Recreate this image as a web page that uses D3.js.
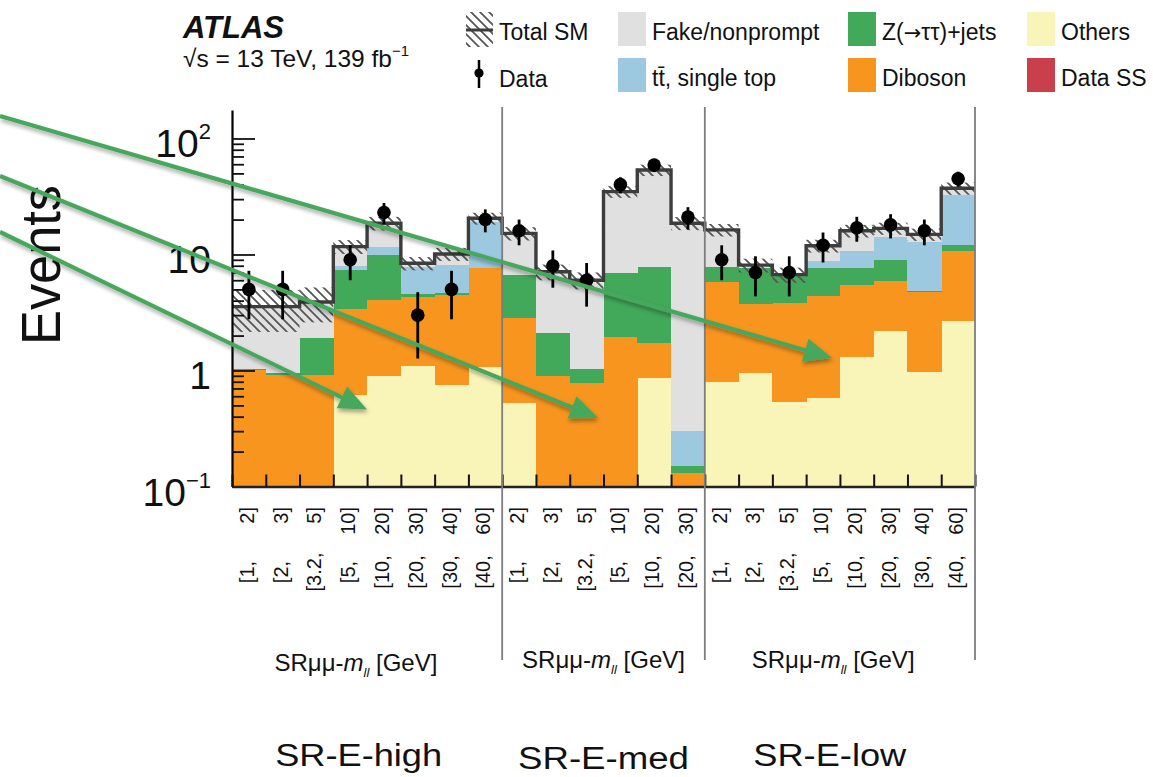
<!DOCTYPE html>
<html>
<head>
<meta charset="utf-8">
<script src="https://cdn.jsdelivr.net/npm/d3@7"></script>
<style>
  html, body { margin: 0; padding: 0; background: #fff; }
  svg { display: block; font-family: "Liberation Sans", Arial, Helvetica, sans-serif; }
</style>
</head>
<body>
<svg id="chart" width="1153" height="777"></svg>
<script>
// ---- Signal regions and m_ll bins ------------------------------------
const regions    = ["SR-E-high", "SR-E-med", "SR-E-low"];
const regionBins = [8, 6, 8];
const edgeLow    = ["1", "2", "3.2", "5", "10", "20", "30", "40"];
const edgeHigh   = ["2", "3", "5", "10", "20", "30", "40", "60"];

// ---- Expected yields per bin (22 bins: 8 + 6 + 8) --------------------
const others  = [0.05, 0.05, 0.05, 0.62, 0.90, 1.10, 0.75, 1.08,
                 0.52, 0.05, 0.05, 0.05, 0.86, 0.03,
                 0.79, 0.96, 0.53, 0.58, 1.31, 2.19, 0.98, 2.69];
const diboson = [0.95, 0.86, 0.86, 2.75, 3.15, 3.20, 3.75, 6.52,
                 2.30, 0.85, 0.73, 1.88, 0.86, 0.10,
                 5.05, 2.78, 3.26, 3.80, 4.15, 3.76, 3.80, 8.11];
const zjets   = [0.03, 0.04, 0.99, 3.98, 5.85, 0.30, 0.15, 0.10,
                 3.83, 1.19, 0.26, 4.97, 6.13, 0.02,
                 2.02, 3.86, 2.86, 3.22, 2.14, 3.02, 0.05, 1.30];
const ttbar   = [0.00, 0.00, 0.00, 0.65, 1.80, 3.20, 3.45, 11.5,
                 0.00, 0.00, 0.00, 0.00, 0.00, 0.15,
                 0.00, 0.00, 0.00, 1.20, 3.20, 5.23, 8.07, 20.5];
const fake    = [2.52, 2.60, 2.00, 3.70, 6.90, 0.60, 2.00, 1.30,
                 8.55, 5.00, 4.96, 27.9, 45.6, 18.3,
                 8.45, 0.50, 0.05, 3.10, 5.20, 2.60, 2.00, 4.60];
// total SM uncertainty (absolute)
const totalUnc = [1.4, 1.4, 1.3, 1.6, 2.5, 1.1, 1.3, 2.4,
                  2.0, 1.1, 1.0, 4.0, 6.0, 2.4,
                  2.0, 1.1, 1.0, 1.5, 2.0, 2.0, 1.8, 4.5];
// observed events
const observed = [5, 5, 0, 9, 23, 3, 5, 20,
                  16, 8, 6, 40, 59, 21,
                  9, 7, 7, 12, 17, 18, 16, 45];

const yMajor = [0.1, 1, 10, 100];
const yMajorLabels = [["10", "\u22121"], ["1", ""], ["10", ""], ["10", "2"]];

// ---- Styling -----------------------------------------------------------
// label parts: [text, use-symbol-font]
const processes = [
  { key: "others",  label: [["Others"]],            color: "#f9f5b9", values: others  },
  { key: "diboson", label: [["Diboson"]],           color: "#f8951f", values: diboson },
  { key: "zjets",   label: [["Z("], ["\u2192", true], ["\u03c4\u03c4)+jets"]], color: "#42a85a", values: zjets },
  { key: "ttbar",   label: [["tt\u0304, single top"]], color: "#9cc8e0", values: ttbar },
  { key: "fake",    label: [["Fake/nonprompt"]],    color: "#e0e0e0", values: fake    }
];
const dataSSColor = "#c9404c";
const arrowColor = "#47a85d";

const svg = d3.select("#chart");
const W = 1153, H = 777;
svg.append("rect").attr("width", W).attr("height", H).attr("fill", "#fff");

const defs = svg.append("defs");
const hatch = defs.append("pattern").attr("id", "hatch")
  .attr("patternUnits", "userSpaceOnUse").attr("width", 9).attr("height", 9);
hatch.append("path").attr("d", "M0,0 L9,9 M-4.5,4.5 L4.5,13.5 M4.5,-4.5 L13.5,4.5")
  .attr("stroke", "#555").attr("stroke-width", 1.8);
const shadow = defs.append("filter").attr("id", "shadow")
  .attr("x", "-5%").attr("y", "-10%").attr("width", "110%").attr("height", "130%");
shadow.append("feDropShadow").attr("dx", 1).attr("dy", 3).attr("stdDeviation", 2)
  .attr("flood-color", "#000").attr("flood-opacity", 0.35);

const nBins = observed.length;
const x = d3.scaleLinear().domain([0, nBins]).range([232, 975]);
const y = d3.scaleLog().domain([0.1, 176]).range([486.5, 110]).clamp(true);
const safe = v => Math.max(v, 1e-4);

// ---- Stacked backgrounds -------------------------------------------------
const rows = d3.range(nBins).map(i => {
  const r = { bin: i };
  processes.forEach(p => r[p.key] = p.values[i]);
  return r;
});
const stack = d3.stack().keys(processes.map(p => p.key))(rows);
const total = rows.map(r => d3.sum(processes, p => r[p.key]));

const gBars = svg.append("g").attr("shape-rendering", "crispEdges");
stack.forEach((layer, li) => {
  gBars.append("g").attr("fill", processes[li].color)
    .selectAll("rect").data(layer).join("rect")
    .attr("x", (d, i) => x(i))
    .attr("width", (d, i) => x(i + 1) - x(i) + 0.4)
    .attr("y", d => y(safe(d[1])))
    .attr("height", d => Math.max(0, y(safe(d[0])) - y(safe(d[1]))));
});

// ---- Total SM uncertainty band and line ---------------------------------
svg.append("g").selectAll("rect").data(total).join("rect")
  .attr("x", (d, i) => x(i))
  .attr("width", (d, i) => x(i + 1) - x(i))
  .attr("y", (d, i) => y(d + totalUnc[i]))
  .attr("height", (d, i) => y(safe(d - totalUnc[i])) - y(d + totalUnc[i]))
  .attr("fill", "url(#hatch)");

const stepPts = total.map((t, i) => [x(i), y(t)]);
stepPts.push([x(nBins), y(total[nBins - 1])]);
svg.append("path")
  .attr("d", d3.line().curve(d3.curveStepAfter)(stepPts))
  .attr("fill", "none").attr("stroke", "#3d3d3d").attr("stroke-width", 3.4);

// ---- Axes ---------------------------------------------------------------
const minorVals = [];
[-1, 0, 1].forEach(k => d3.range(2, 10).forEach(m => minorVals.push(m * Math.pow(10, k))));

const gy = svg.append("g").attr("transform", `translate(${x(0)},0)`);
gy.call(d3.axisLeft(y).tickValues(yMajor).tickSize(-23).tickSizeOuter(0).tickFormat(""));
gy.append("g").call(d3.axisLeft(y).tickValues(minorVals).tickSize(-12).tickSizeOuter(0).tickFormat(""))
  .select(".domain").remove();
gy.selectAll("path.domain").attr("stroke", "#000").attr("stroke-width", 2.2);
gy.selectAll(".tick line").attr("stroke", "#111").attr("stroke-width", 1.8);

const ylab = svg.append("g").attr("font-size", 39).attr("fill", "#111").attr("text-anchor", "end");
yMajor.forEach((v, i) => {
  const t = ylab.append("text").attr("x", 211).attr("y", y(v) + 19);
  t.append("tspan").text(yMajorLabels[i][0]);
  if (yMajorLabels[i][1]) {
    t.append("tspan").attr("font-size", 22).attr("dy", -18).text(yMajorLabels[i][1]);
  }
});

const gx = svg.append("g").attr("transform", `translate(0,${y(0.1)})`);
gx.call(d3.axisBottom(x).tickValues(d3.range(0, nBins + 1)).tickSize(-12).tickSizeOuter(0).tickFormat(""));
gx.select(".domain").attr("stroke", "#222").attr("stroke-width", 2.6);
gx.selectAll(".tick line").attr("stroke", "#111").attr("stroke-width", 2);

// ---- Observed data --------------------------------------------------------
const pts = observed.map((n, i) => ({ i, n })).filter(d => d.n > 0);
const gData = svg.append("g");
gData.selectAll("line").data(pts).join("line")
  .attr("x1", d => x(d.i + 0.5)).attr("x2", d => x(d.i + 0.5))
  .attr("y1", d => y(d.n + Math.sqrt(d.n)))
  .attr("y2", d => y(safe(d.n - Math.sqrt(d.n))))
  .attr("stroke", "#000").attr("stroke-width", 2.8);
gData.selectAll("circle").data(pts).join("circle")
  .attr("cx", d => x(d.i + 0.5)).attr("cy", d => y(d.n)).attr("r", 6.8)
  .attr("fill", "#000");

// ---- Region separators, bin labels, axis titles ------------------------
let start = 0;
const regionStarts = regionBins.map(n => { const s = start; start += n; return s; });
const sepBins = regionStarts.slice(1).concat([nBins]);
svg.append("g").selectAll("line").data(sepBins).join("line")
  .attr("x1", d => x(d)).attr("x2", d => x(d))
  .attr("y1", 107).attr("y2", 660)
  .attr("stroke", "#7d7d7d").attr("stroke-width", 1.8);

const gLab = svg.append("g").attr("font-size", 20).attr("fill", "#111");
regionBins.forEach((n, r) => {
  d3.range(n).forEach(j => {
    const cx = x(regionStarts[r] + j + 0.5) - 2;
    gLab.append("text")
      .attr("transform", `translate(${cx},507) rotate(-90)`)
      .attr("dominant-baseline", "central").attr("text-anchor", "end")
      .text(edgeHigh[j] + "]");
    gLab.append("text")
      .attr("transform", `translate(${cx},572) rotate(-90)`)
      .attr("dominant-baseline", "central").attr("text-anchor", "middle")
      .text("[" + edgeLow[j] + ",");
  });
});

// x-axis titles under each region
const titleCenters = [3.67, 11.0, 17.8];
const titleBase = [671, 668, 668];
titleCenters.forEach((c, r) => {
  const t = svg.append("text").attr("x", x(c)).attr("y", titleBase[r])
    .attr("text-anchor", "middle").attr("font-size", 24).attr("fill", "#111");
  t.append("tspan").text("SR\u03bc\u03bc-");
  t.append("tspan").attr("font-style", "italic").text("m");
  t.append("tspan").attr("font-style", "italic").attr("font-size", 13).attr("dy", 6).text("ll");
  t.append("tspan").attr("dy", -6).text(" [GeV]");
});

// region names
const regionCenters = [3.75, 11.0, 17.7];
const regionBase = [766, 769, 766];
const regionWidth = [167, 171, 153];
regions.forEach((name, r) => {
  svg.append("text").attr("x", x(regionCenters[r])).attr("y", regionBase[r])
    .attr("text-anchor", "middle").attr("font-size", 31).attr("fill", "#111")
    .attr("textLength", regionWidth[r]).attr("lengthAdjust", "spacingAndGlyphs")
    .text(name);
});

// y-axis title
svg.append("text").attr("transform", "translate(60,265) rotate(-90)")
  .attr("text-anchor", "middle").attr("font-size", 55).attr("fill", "#111")
  .attr("textLength", 160).attr("lengthAdjust", "spacingAndGlyphs")
  .text("Events");

// ---- ATLAS label ----------------------------------------------------------
svg.append("text").attr("x", 183).attr("y", 38).attr("font-size", 31)
  .attr("font-weight", "bold").attr("font-style", "italic").attr("fill", "#111").text("ATLAS");
const lumi = svg.append("text").attr("x", 183).attr("y", 67).attr("font-size", 24.5).attr("fill", "#111");
lumi.append("tspan").text("\u221as = 13 TeV, 139 fb");
lumi.append("tspan").attr("font-size", 15).attr("dy", -11).text("\u22121");

// ---- Legend -----------------------------------------------------------------
const leg = svg.append("g").attr("font-size", 23).attr("fill", "#111");
// Total SM
leg.append("rect").attr("x", 466).attr("y", 12).attr("width", 27).attr("height", 35).attr("fill", "url(#hatch)");
leg.append("line").attr("x1", 466).attr("x2", 493).attr("y1", 30).attr("y2", 30)
  .attr("stroke", "#3d3d3d").attr("stroke-width", 3);
leg.append("text").attr("x", 499).attr("y", 40).text("Total SM");
// Data
leg.append("line").attr("x1", 479).attr("x2", 479).attr("y1", 60).attr("y2", 88)
  .attr("stroke", "#000").attr("stroke-width", 2.5);
leg.append("circle").attr("cx", 479).attr("cy", 73).attr("r", 4.6).attr("fill", "#000");
leg.append("text").attr("x", 499).attr("y", 87).text("Data");

const legendBoxes = [
  { p: processes[4], x: 618, y: 12 },
  { p: processes[3], x: 618, y: 58 },
  { p: processes[2], x: 848, y: 12 },
  { p: processes[1], x: 848, y: 58 },
  { p: processes[0], x: 1027, y: 12 },
  { p: { label: [["Data SS"]], color: dataSSColor }, x: 1027, y: 58 }
];
legendBoxes.forEach(b => {
  leg.append("rect").attr("x", b.x).attr("y", b.y).attr("width", 28).attr("height", 34).attr("fill", b.p.color);
  const t = leg.append("text").attr("x", b.x + 34).attr("y", b.y + 28);
  b.p.label.forEach(([s, sym]) => {
    const ts = t.append("tspan").text(s);
    if (sym) ts.attr("font-family", "DejaVu Sans").attr("font-size", 21);
  });
});

// ---- Annotation arrows --------------------------------------------------------
const arrows = [
  { from: [0, 116], bin: 17.77, val: 1.28 },
  { from: [0, 176], bin: 10.84, val: 0.39 },
  { from: [0, 232], bin: 4.0,  val: 0.46 }
];
const gArr = svg.append("g").attr("filter", "url(#shadow)");
arrows.forEach(a => {
  const tip = [x(a.bin), y(a.val)];
  const dx = tip[0] - a.from[0], dy = tip[1] - a.from[1];
  const len = Math.hypot(dx, dy), ux = dx / len, uy = dy / len;
  const L = 28, Wd = 12;
  const base = [tip[0] - L * ux, tip[1] - L * uy];
  gArr.append("line")
    .attr("x1", a.from[0]).attr("y1", a.from[1])
    .attr("x2", base[0] + 2 * ux).attr("y2", base[1] + 2 * uy)
    .attr("stroke", arrowColor).attr("stroke-width", 4.2);
  gArr.append("polygon")
    .attr("points", [tip, [base[0] - Wd * uy, base[1] + Wd * ux], [base[0] + Wd * uy, base[1] - Wd * ux]]
      .map(p => p.join(",")).join(" "))
    .attr("fill", arrowColor);
});
</script>
</body>
</html>
